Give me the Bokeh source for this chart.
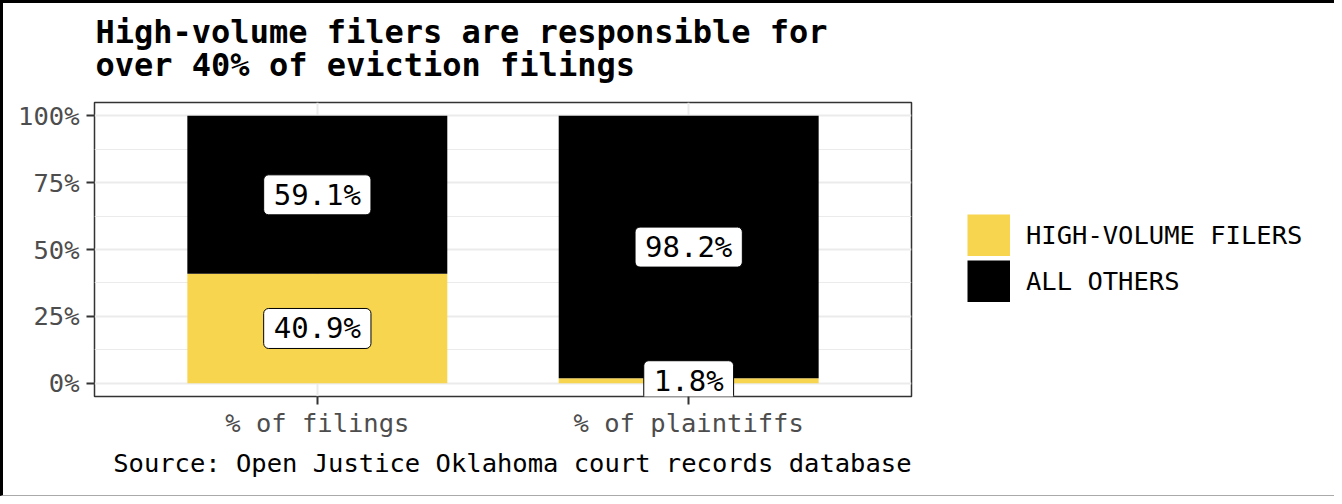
import numpy as np
from bokeh.plotting import figure
from bokeh.layouts import row
from bokeh.models import (ColumnDataSource, FixedTicker, NumeralTickFormatter, Legend,
                          LegendItem, Title, Range1d)
from bokeh.core.properties import value
from bokeh.embed import file_html
from bokeh.resources import INLINE

# ---- data ----
categories = ["% of filings", "% of plaintiffs"]
high_volume = [0.409, 0.018]
all_others = [0.591, 0.982]
series_names = ["HIGH-VOLUME FILERS", "ALL OTHERS"]
series_colors = ["#F7D54E", "#000000"]
y_ticks = [0, 0.25, 0.5, 0.75, 1.0]
y_minor = [0.125, 0.375, 0.625, 0.875]
title_text = "High-volume filers are responsible for\nover 40% of eviction filings"
caption_text = "Source: Open Justice Oklahoma court records database"

MONO = "DejaVu Sans Mono"
H = 492

xpos = list(range(1, len(categories) + 1))
src = ColumnDataSource(dict(x=xpos, high=high_volume, others=all_others))

hv = np.array(high_volume)
ao = np.array(all_others)
lab_x = xpos + xpos
lab_y = list(hv / 2) + list(hv + ao / 2)
lab_t = [f"{v * 100:.1f}%" for v in list(hv) + list(ao)]
lsrc = ColumnDataSource(dict(x=lab_x, y=lab_y, text=lab_t))

p = figure(width=910, height=H, output_backend="svg", toolbar_location=None,
           x_range=Range1d(0.4, 2.6), y_range=Range1d(-0.05, 1.05),
           min_border_left=91, min_border_right=2, min_border_top=99,
           min_border_bottom=99)

p.background_fill_color = "white"
p.border_fill_color = "white"
p.outline_line_color = "#333333"
p.outline_line_width = 1.5

# grids
p.ygrid.grid_line_color = "#EBEBEB"
p.ygrid.grid_line_width = 2
p.ygrid.minor_grid_line_color = "#EBEBEB"
p.ygrid.minor_grid_line_width = 1
p.xgrid.grid_line_color = "#EBEBEB"
p.xgrid.grid_line_width = 2

# axes
p.yaxis.ticker = FixedTicker(ticks=y_ticks, minor_ticks=y_minor)
p.yaxis.formatter = NumeralTickFormatter(format="0%")
p.xaxis.ticker = FixedTicker(ticks=xpos)
p.xaxis.major_label_overrides = {x: c for x, c in zip(xpos, categories)}
for ax in (p.xaxis, p.yaxis):
    ax.axis_line_color = None
    ax.major_tick_line_color = "#333333"
    ax.major_tick_line_width = 2
    ax.major_tick_out = 8
    ax.major_tick_in = 0
    ax.minor_tick_line_color = None
    ax.major_label_text_font = MONO
    ax.major_label_text_font_size = "25.5px"
    ax.major_label_text_color = "#4D4D4D"
p.yaxis.major_label_standoff = 7
p.xaxis.major_label_standoff = 3

# bars
rends = p.vbar_stack(["high", "others"], x="x", width=0.7, source=src,
                     fill_color=series_colors, line_color=None)

# value labels
p.text(x="x", y="y", text="text", source=lsrc, text_font=value(MONO),
       text_font_size="29px", text_align="center", text_baseline="middle",
       text_color="black", background_fill_color="white",
       border_line_color="black", border_line_width=1,
       padding=(10, 10, 3, 3), border_radius=5)

# title and caption
p.add_layout(Title(text=caption_text, align="right", text_font=MONO,
                   text_font_size="25.5px", text_font_style="normal",
                   text_color="black", standoff=11), "below")
p.add_layout(Title(text=title_text, align="left", offset=1, text_font=MONO,
                   text_font_size="32px", text_font_style="bold",
                   text_color="black", standoff=0, text_line_height=0.885,
                   padding=(0, 0, 0, 18)),
             "above")

# legend panel (second canvas to the right; its frame aligns with p's frame)
q = figure(width=1331 - 910, height=H, output_backend="svg", toolbar_location=None,
           x_range=Range1d(10, 11), y_range=Range1d(10, 11),
           min_border_left=0, min_border_right=0, min_border_top=0,
           min_border_bottom=0)
q.axis.visible = False
q.grid.visible = False
q.outline_line_color = None
q.background_fill_color = "white"
q.border_fill_color = "white"
# legend keys: series drawn outside q's visible range, only their legend swatches show
keys = [q.line(x="x", y=col, source=src, line_color=c, line_width=42, line_cap="butt")
        for col, c in zip(["high", "others"], series_colors)]
legend = Legend(items=[LegendItem(label=n, renderers=[k])
                       for n, k in zip(series_names, keys)],
                location=(54, 94), glyph_width=43, glyph_height=42, spacing=4,
                padding=0, margin=0, border_line_color=None,
                background_fill_alpha=0, label_text_font=MONO,
                label_text_font_size="25.5px", label_standoff=16,
                label_height=42, label_text_baseline="middle",
                label_text_color="black")
q.add_layout(legend, "center")

layout = row(p, q, spacing=0,
             styles={"border-top": "3px solid black", "border-left": "3px solid black",
                     "border-bottom": "1px solid #AAAAAA"})

open("out.html", "w").write(file_html(layout, INLINE))
